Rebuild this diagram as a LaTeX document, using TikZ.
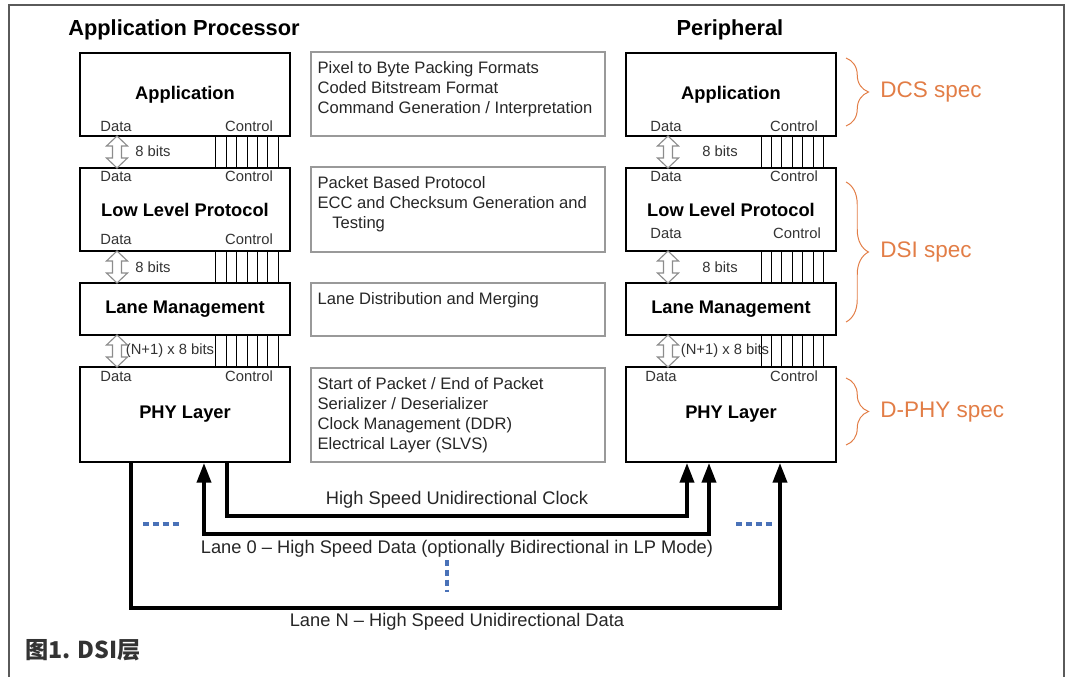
\documentclass[tikz,border=0pt]{standalone}
\usepackage{fontspec}
\setmainfont{Liberation Sans}
\newfontfamily\cjk{Noto Sans CJK SC}
\usetikzlibrary{calc,positioning,arrows.meta,decorations.pathreplacing}
\definecolor{specorange}{RGB}{226,125,70}
\definecolor{lanedots}{RGB}{74,114,184}
\definecolor{framegray}{RGB}{90,90,90}
\tikzset{
	layer/.style={draw=black, line width=1.4pt, fill=white, minimum width=5.25cm, inner sep=0pt,
		font=\fontsize{13}{15}\selectfont\bfseries},
	duty/.style={draw=black!40, line width=0.9pt, minimum width=7.35cm, inner sep=0pt},
	dutytext/.style={anchor=north west, align=left, inner sep=0pt, text=black!85,
		font=\fontsize{11.8}{14.2}\selectfont},
	port/.style={inner sep=0pt, text=black!80, font=\fontsize{10.5}{12}\selectfont},
	hollow/.style={draw=black!45, line width=0.8pt, fill=white},
	ctrl/.style={draw=black, line width=0.7pt},
	wire/.style={draw=black, line width=2.6pt},
	tip/.style={-{Triangle[length=14pt,width=10pt]}},
	lanedash/.style={draw=lanedots, line width=2.3pt, dash pattern=on 4.4pt off 2.6pt},
	specbrace/.style={draw=specorange, line width=0.7pt, decorate,
		decoration={brace, amplitude=16pt}},
	spec/.style={anchor=west, inner sep=0pt, text=specorange, font=\fontsize{16}{18}\selectfont},
	head/.style={inner sep=0pt, font=\fontsize{15.5}{18}\selectfont\bfseries},
	lanelabel/.style={inner sep=0pt, text=black!85, font=\fontsize{13}{15}\selectfont}
}
\newcommand{\databus}[3]{%
	\draw[hollow] (#1,#2) -- ++(10.5,10) -- ++(-6,0) -- ({#1+4.5},{#3-10}) -- ++(6,0) -- (#1,#3)
		-- ++(-10.5,-10) -- ++(6,0) -- ({#1-4.5},{#2+10}) -- ++(-6,0) -- cycle;}
\begin{document}
\begin{tikzpicture}[x=0.025cm, y=-0.025cm]
	\useasboundingbox (0,0) rectangle (1067,677);
	\draw[framegray, line width=1pt] (9,677) -- (9,5) -- (1064,5) -- (1064,677);

	\node[head] (procTitle) at (184,30) {Application Processor};
	\node[head] (periTitle) at (730,30) {Peripheral};

	% application processor stack
	\node[layer, minimum height=2.075cm] (appL) at (185,94.5) {Application};
	\node[layer, minimum height=2.075cm] (llpL) at (185,209.5) {Low Level Protocol};
	\node[layer, minimum height=1.3cm] (lmL) at (185,309) {Lane Management};
	\node[layer, minimum height=2.375cm] (phyL) at (185,414.5) {PHY Layer};

	% peripheral stack
	\node[layer, minimum height=2.075cm] (appR) at (731,94.5) {Application};
	\node[layer, minimum height=2.075cm] (llpR) at (731,209.5) {Low Level Protocol};
	\node[layer, minimum height=1.3cm] (lmR) at (731,309) {Lane Management};
	\node[layer, minimum height=2.375cm] (phyR) at (731,414.5) {PHY Layer};

	% duties of each layer
	\node[duty, minimum height=2.1cm] (dutyApp) at (458,94) {};
	\node[duty, minimum height=2.125cm] (dutyLlp) at (458,209.5) {};
	\node[duty, minimum height=1.325cm] (dutyLm) at (458,309.5) {};
	\node[duty, minimum height=2.35cm] (dutyPhy) at (458,415) {};
	\node[dutytext] (dutyAppTxt) at ($(dutyApp.north west)+(7,10)$)
		{Pixel to Byte Packing Formats\\Coded Bitstream Format\\Command Generation / Interpretation};
	\node[dutytext] (dutyLlpTxt) at ($(dutyLlp.north west)+(7,10)$)
		{Packet Based Protocol\\ECC and Checksum Generation and\\\hspace*{10.5pt}Testing};
	\node[dutytext] (dutyLmTxt) at ($(dutyLm.north west)+(7,10)$) {Lane Distribution and Merging};
	\node[dutytext] (dutyPhyTxt) at ($(dutyPhy.north west)+(7,10)$)
		{Start of Packet / End of Packet\\Serializer / Deserializer\\Clock Management (DDR)\\Electrical Layer (SLVS)};

	% data / control ports
	\node[port] at ($(appL.south west)+(37,-11)$) {Data};
	\node[port] at ($(appL.south east)+(-42,-11)$) {Control};
	\node[port] at ($(llpL.north west)+(37,9)$) {Data};
	\node[port] at ($(llpL.north east)+(-42,9)$) {Control};
	\node[port] at ($(llpL.south west)+(37,-13)$) {Data};
	\node[port] at ($(llpL.south east)+(-42,-13)$) {Control};
	\node[port] at ($(phyL.north west)+(37,10)$) {Data};
	\node[port] at ($(phyL.north east)+(-42,10)$) {Control};
	\node[port] at ($(appR.south west)+(41,-11)$) {Data};
	\node[port] at ($(appR.south east)+(-43,-11)$) {Control};
	\node[port] at ($(llpR.north west)+(41,9)$) {Data};
	\node[port] at ($(llpR.north east)+(-43,9)$) {Control};
	\node[port] at ($(llpR.south west)+(41,-19)$) {Data};
	\node[port] at ($(llpR.south east)+(-40,-19)$) {Control};
	\node[port] at ($(phyR.north west)+(36,10)$) {Data};
	\node[port] at ($(phyR.north east)+(-43,10)$) {Control};

	% control lines
	\foreach \i in {0,...,6}{
		\draw[ctrl] ($(appL.south west)+(137+\i*10.4,0)$) -- ($(llpL.north west)+(137+\i*10.4,0)$);
		\draw[ctrl] ($(llpL.south west)+(137+\i*10.4,0)$) -- ($(lmL.north west)+(137+\i*10.4,0)$);
		\draw[ctrl] ($(lmL.south west)+(137+\i*10.4,0)$) -- ($(phyL.north west)+(137+\i*10.4,0)$);
		\draw[ctrl] ($(appR.south west)+(136+\i*10.4,0)$) -- ($(llpR.north west)+(136+\i*10.4,0)$);
		\draw[ctrl] ($(llpR.south west)+(136+\i*10.4,0)$) -- ($(lmR.north west)+(136+\i*10.4,0)$);
		\draw[ctrl] ($(lmR.south west)+(136+\i*10.4,0)$) -- ($(phyR.north west)+(136+\i*10.4,0)$);
	}

	% data paths
	\databus{117}{136}{168}
	\databus{117}{251}{283}
	\databus{117}{335}{367}
	\databus{668}{136}{168}
	\databus{668}{251}{283}
	\databus{668}{335}{367}
	\node[port] (bitsL1) at (153,151) {8 bits};
	\node[port] (bitsL2) at (153,267) {8 bits};
	\node[port] (bitsL3) at (170,351) {(N+1) x 8 bits};
	\node[port] (bitsR1) at (720,151) {8 bits};
	\node[port] (bitsR2) at (720,267) {8 bits};
	\node[port] (bitsR3) at (725,351) {(N+1) x 8 bits};

	% lanes
	\draw[wire, tip] ($(phyL.south west)+(148,0)$) -- ++(0,53) -| ($(phyR.south west)+(62,0)$);
	\draw[wire, {Triangle[length=14pt,width=10pt]}-{Triangle[length=14pt,width=10pt]}]
		($(phyL.south west)+(125,0)$) -- ++(0,71) -| ($(phyR.south west)+(84,0)$);
	\draw[wire, tip] ($(phyL.south west)+(52,0)$) -- ++(0,145) -| ($(phyR.south west)+(155,0)$);
	\node[lanelabel] (clkLbl) at (457,500) {High Speed Unidirectional Clock};
	\node[lanelabel] (lane0Lbl) at (457,549) {Lane 0 -- High Speed Data (optionally Bidirectional in LP Mode)};
	\node[lanelabel] (laneNLbl) at (457,622) {Lane N -- High Speed Unidirectional Data};
	\draw[lanedash] (143,524) -- (182,524);
	\draw[lanedash] (736,524) -- (775,524);
	\draw[lanedash] (447,560) -- (447,592);

	% specs
	\draw[specbrace] (846,58) -- (846,126);
	\draw[specbrace] (846,182) -- (846,322);
	\draw[specbrace] (846,378) -- (846,445);
	\node[spec] (dcs) at (880,92) {DCS spec};
	\node[spec] (dsi) at (880,252) {DSI spec};
	\node[spec] (dphy) at (880,412) {D-PHY spec};

	\node[anchor=west, inner sep=0pt, text=black!80, font=\cjk\bfseries\fontsize{16.5}{19}\selectfont]
		(caption) at (25,650) {图1. DSI层};
\end{tikzpicture}
\end{document}
